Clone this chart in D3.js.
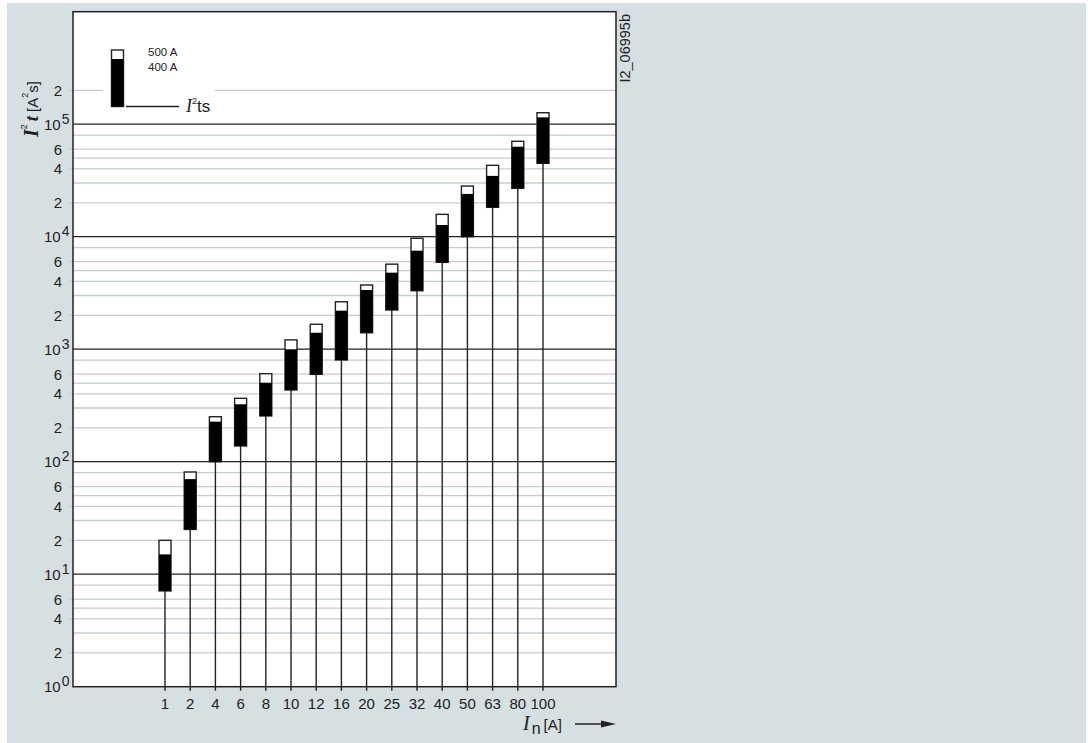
<!DOCTYPE html>
<html>
<head>
<meta charset="utf-8">
<script src="https://cdn.jsdelivr.net/npm/d3@7"></script>
<style>
  html, body { margin: 0; padding: 0; background: #fff; }
  svg text { font-family: 'Liberation Sans', Arial, sans-serif; fill: #222; }
</style>
</head>
<body>
<div id="main"></div>
<script>
// rated currents (x categories)
const ratings = ['1', '2', '4', '6', '8', '10', '12', '16', '20', '25', '32', '40', '50', '63', '80', '100'];
// I2t values [A2s]
const i2tPre = [7.1, 25, 100, 138, 255, 434, 598, 802, 1400, 2230, 3310, 5920, 10000, 18250, 26900, 44900];
const i2t400 = [15, 70, 227, 324, 504, 998, 1400, 2200, 3360, 4790, 7510, 12700, 24000, 34700, 63100, 115000];
const i2t500 = [20, 81, 251, 366, 606, 1210, 1665, 2640, 3720, 5700, 9680, 15800, 28200, 43100, 70500, 126500];
// y axis ticks
const decades = [1, 10, 100, 1000, 10000, 100000];
const minorTicks = [2, 3, 4, 5, 6, 8, 20, 30, 40, 50, 60, 80, 200, 300, 400, 500, 600, 800,
    2000, 3000, 4000, 5000, 6000, 8000, 20000, 30000, 40000, 50000, 60000, 80000, 200000];
const labeledMinor = [2, 4, 6, 20, 40, 60, 200, 400, 600, 2000, 4000, 6000, 20000, 40000, 60000, 200000];
const legendLabels = ['500 A', '400 A'];

const dataSet = ratings.map((r, i) => ({rating: r, pre: i2tPre[i], v400: i2t400[i], v500: i2t500[i]}));

const W = 1088, H = 743;
const FRAME = {left: 73, right: 616, top: 11.7, bottom: 686.7};
const INK = '#222';
const GRID = '#c3ced4';
const SERIF = "'Liberation Serif', 'Times New Roman', serif";

const svg = d3.select('#main').append('svg')
    .attr('width', W)
    .attr('height', H)
    .attr('style', 'display: block');

svg.append('rect')
    .attr('x', 7).attr('y', 3)
    .attr('width', 1079).attr('height', 740)
    .attr('fill', '#d6dfe2');

svg.append('rect')
    .attr('x', FRAME.left).attr('y', FRAME.top)
    .attr('width', FRAME.right - FRAME.left).attr('height', FRAME.bottom - FRAME.top)
    .attr('fill', '#fff');

const scaleY = d3.scaleLog().domain([1, 1e6]).range([FRAME.bottom, FRAME.top]);
const scaleX = d3.scalePoint().domain(ratings).range([165, 543]);

// minor grid
svg.append('g').selectAll('line').data(minorTicks).enter().append('line')
    .attr('x1', (d) => labeledMinor.includes(d) ? FRAME.left - 4 : FRAME.left)
    .attr('x2', FRAME.right)
    .attr('y1', (d) => scaleY(d))
    .attr('y2', (d) => scaleY(d))
    .attr('stroke', GRID)
    .attr('stroke-width', 1.3);

// legend knocks out part of the 2e5 line
svg.append('rect')
    .attr('x', 103).attr('y', 40)
    .attr('width', 112).attr('height', 80)
    .attr('fill', '#fff');

// decade lines
svg.append('g').selectAll('line').data(decades.slice(1)).enter().append('line')
    .attr('x1', FRAME.left)
    .attr('x2', FRAME.right)
    .attr('y1', (d) => scaleY(d))
    .attr('y2', (d) => scaleY(d))
    .attr('stroke', INK)
    .attr('stroke-width', 1.3);

// y labels
svg.append('g').selectAll('text').data(labeledMinor).enter().append('text')
    .attr('x', 62)
    .attr('y', (d) => scaleY(d) + 5.5)
    .attr('text-anchor', 'end')
    .attr('font-size', 15)
    .text((d) => String(d).charAt(0));

const decLabels = svg.append('g').selectAll('text').data(decades).enter().append('text')
    .attr('x', 44)
    .attr('y', (d) => scaleY(d) + 5.5)
    .attr('font-size', 15);
decLabels.append('tspan').text('10');
decLabels.append('tspan')
    .attr('dx', 1)
    .attr('dy', -6)
    .attr('font-size', 14)
    .text((d) => Math.round(Math.log10(d)));

// stems and bars
const bars = svg.append('g').selectAll('g').data(dataSet).enter().append('g');
bars.append('line')
    .attr('x1', (d) => scaleX(d.rating))
    .attr('x2', (d) => scaleX(d.rating))
    .attr('y1', (d) => scaleY(d.pre))
    .attr('y2', FRAME.bottom + 4)
    .attr('stroke', INK)
    .attr('stroke-width', 1.4);
bars.append('rect')
    .attr('x', (d) => scaleX(d.rating) - 6)
    .attr('width', 12)
    .attr('y', (d) => scaleY(d.v500))
    .attr('height', (d) => scaleY(d.pre) - scaleY(d.v500))
    .attr('fill', '#fff')
    .attr('stroke', INK)
    .attr('stroke-width', 1.4);
bars.append('rect')
    .attr('x', (d) => scaleX(d.rating) - 6)
    .attr('width', 12)
    .attr('y', (d) => scaleY(d.v400))
    .attr('height', (d) => scaleY(d.pre) - scaleY(d.v400))
    .attr('fill', '#000');

// frame
svg.append('rect')
    .attr('x', FRAME.left).attr('y', FRAME.top)
    .attr('width', FRAME.right - FRAME.left).attr('height', FRAME.bottom - FRAME.top)
    .attr('fill', 'none')
    .attr('stroke', INK)
    .attr('stroke-width', 1.5);

// x labels
svg.append('g').selectAll('text').data(ratings).enter().append('text')
    .attr('x', (d) => scaleX(d))
    .attr('y', 708.5)
    .attr('text-anchor', 'middle')
    .attr('font-size', 15)
    .text((d) => d);

// legend
svg.append('rect')
    .attr('x', 111.5).attr('y', 50)
    .attr('width', 12).attr('height', 56.5)
    .attr('fill', '#fff').attr('stroke', INK).attr('stroke-width', 1.4);
svg.append('rect')
    .attr('x', 111.5).attr('y', 59)
    .attr('width', 12).attr('height', 47.5)
    .attr('fill', '#000');
svg.append('line')
    .attr('x1', 126).attr('x2', 179)
    .attr('y1', 106.5).attr('y2', 106.5)
    .attr('stroke', INK).attr('stroke-width', 1.3);
svg.append('g').selectAll('text').data(legendLabels).enter().append('text')
    .attr('x', 148)
    .attr('y', (d, i) => 56 + i * 15)
    .attr('font-size', 11.5)
    .text((d) => d);
const lt = svg.append('text').attr('x', 186).attr('y', 112).attr('font-size', 17);
lt.append('tspan').attr('font-family', SERIF).attr('font-style', 'italic').attr('font-size', 18).text('I');
lt.append('tspan').attr('font-size', 9).attr('dy', -8).text('2');
lt.append('tspan').attr('dy', 8).text('ts');

// y title
const yt = svg.append('text')
    .attr('transform', 'translate(38, 137) rotate(-90)')
    .attr('font-size', 15);
yt.append('tspan').attr('font-family', SERIF).attr('font-style', 'italic').attr('font-weight', 'bold').attr('font-size', 20).text('I');
yt.append('tspan').attr('font-size', 9).attr('dy', -11).text('2');
yt.append('tspan').attr('dy', 11).attr('dx', 3).attr('font-family', SERIF).attr('font-style', 'italic').attr('font-weight', 'bold').attr('font-size', 19).text('t');
yt.append('tspan').attr('dx', 4).text('[A');
yt.append('tspan').attr('font-size', 9).attr('dy', -10).text('2');
yt.append('tspan').attr('dy', 10).text('s]');

// x title
const xt = svg.append('text').attr('x', 523).attr('y', 730).attr('font-size', 15);
xt.append('tspan').attr('font-family', SERIF).attr('font-style', 'italic').attr('font-size', 20).text('I');
xt.append('tspan').attr('dy', 4).attr('dx', 2).attr('font-size', 16).text('n');
xt.append('tspan').attr('dy', -4).attr('dx', 3).text('[A]');
svg.append('line')
    .attr('x1', 575).attr('x2', 604)
    .attr('y1', 724).attr('y2', 724)
    .attr('stroke', INK).attr('stroke-width', 1.5);
svg.append('path')
    .attr('d', 'M 601 720.5 L 616 724 L 601 727.5 Z')
    .attr('fill', INK);

// drawing id
svg.append('text')
    .attr('transform', 'translate(630, 14) rotate(-90)')
    .attr('text-anchor', 'end')
    .attr('font-size', 14.5)
    .text('I2_06995b');
</script>
</body>
</html>
